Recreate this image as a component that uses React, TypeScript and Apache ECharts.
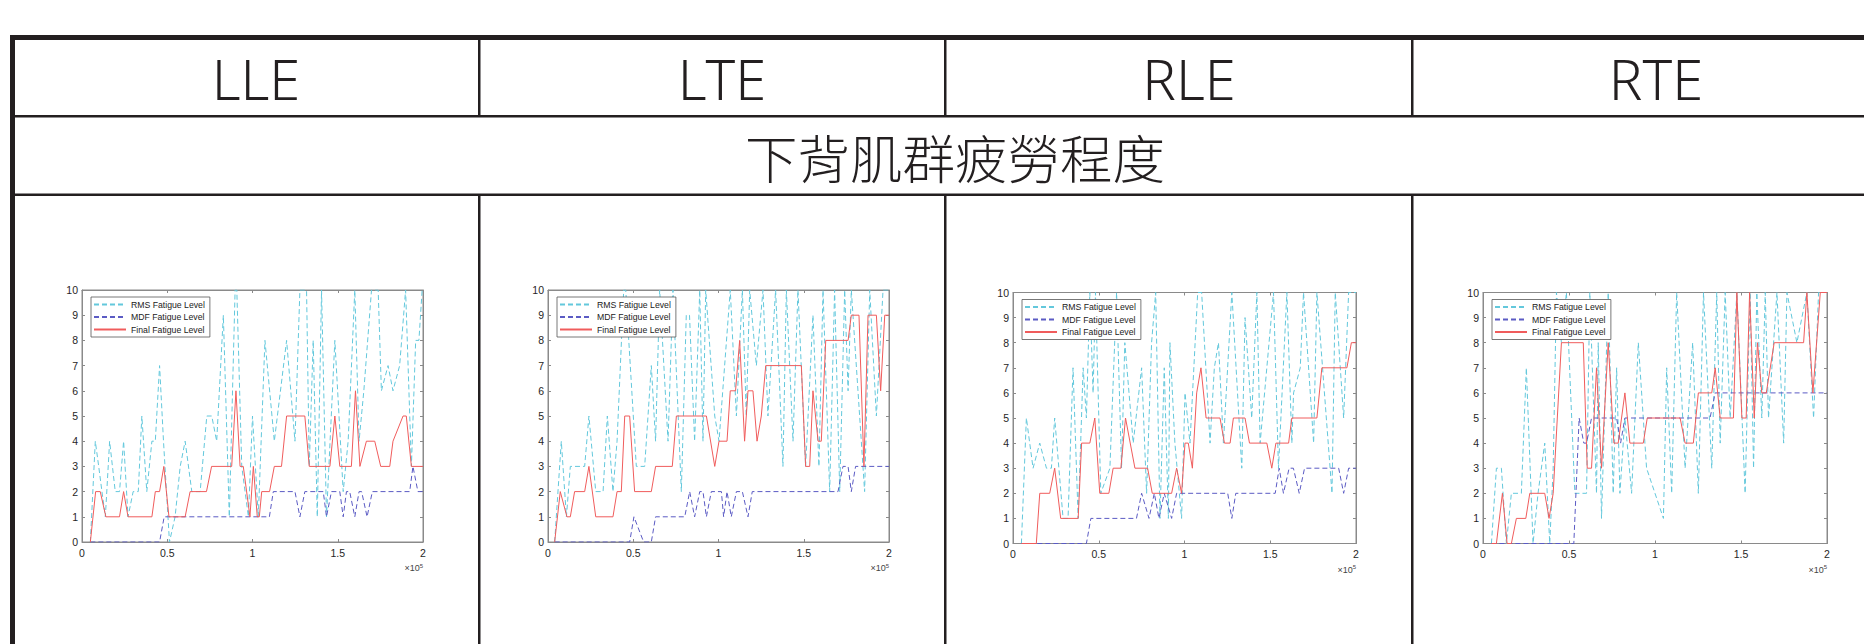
import React, { useEffect, useRef } from "react";
import * as echarts from "echarts";

const COLUMN_HEADERS = ["LLE", "LTE", "RLE", "RTE"];
const ROW_TITLE = "下背肌群疲勞程度";
const SERIES_NAMES = ["RMS Fatigue Level", "MDF Fatigue Level", "Final Fatigue Level"];
const X_TICK_LABELS = ["0", "0.5", "1", "1.5", "2"];
const X_SCALE_LABEL = "×10{sup|5}";

type Pt = [number, number];

// ---- LLE ----
const LLE_RMS: Pt[] = [
  [0.049, 0], [0.078, 4], [0.098, 3], [0.117, 2], [0.137, 1], [0.162, 4], [0.195, 2], [0.22, 2], [0.244, 4],
  [0.27, 1], [0.3, 2], [0.33, 2], [0.351, 5], [0.38, 2], [0.41, 4], [0.43, 4], [0.455, 7], [0.478, 4],
  [0.513, 0], [0.546, 1], [0.576, 3], [0.605, 4], [0.644, 2], [0.693, 2], [0.732, 5], [0.761, 5], [0.79, 4],
  [0.829, 9], [0.864, 1], [0.898, 10], [0.908, 10], [0.937, 3], [0.976, 1], [1.0, 5], [1.034, 1], [1.073, 8],
  [1.128, 4], [1.2, 8], [1.249, 4], [1.278, 10], [1.317, 10], [1.333, 3], [1.356, 8], [1.38, 1], [1.405, 10],
  [1.434, 1], [1.483, 8], [1.532, 2], [1.561, 4], [1.6, 10], [1.625, 4], [1.653, 6], [1.698, 10], [1.737, 10],
  [1.756, 6], [1.795, 7], [1.824, 6], [1.863, 7], [1.898, 10], [1.932, 3], [1.957, 8], [1.976, 8], [1.995, 10], [2, 10],
];
const LLE_MDF: Pt[] = [
  [0.049, 0], [0.455, 0], [0.482, 1], [1.099, 1], [1.122, 2], [1.249, 2], [1.278, 1], [1.307, 2], [1.415, 2],
  [1.434, 1], [1.463, 2], [1.512, 2], [1.532, 1], [1.551, 2], [1.57, 2], [1.6, 1], [1.625, 2], [1.64, 2],
  [1.672, 1], [1.703, 2], [1.922, 2], [1.941, 3], [1.97, 2], [2, 2],
];
const LLE_FINAL: Pt[] = [
  [0.049, 0], [0.08, 2], [0.107, 2], [0.14, 1], [0.22, 1], [0.244, 2], [0.27, 1], [0.41, 1], [0.43, 2],
  [0.455, 2], [0.48, 3], [0.51, 1], [0.605, 1], [0.634, 2], [0.73, 2], [0.76, 3], [0.878, 3], [0.903, 6],
  [0.927, 3], [0.946, 3], [0.985, 1], [1.005, 3], [1.028, 1], [1.04, 1], [1.054, 2], [1.1, 2], [1.128, 3],
  [1.17, 3], [1.2, 5], [1.307, 5], [1.333, 3], [1.454, 3], [1.483, 5], [1.512, 3], [1.58, 3], [1.604, 6],
  [1.63, 3], [1.668, 4], [1.717, 4], [1.752, 3], [1.805, 3], [1.824, 4], [1.883, 5], [1.902, 5], [1.932, 3], [2, 3],
];

// ---- LTE ----
const LTE_RMS: Pt[] = [
  [0.039, 0], [0.078, 4], [0.108, 1], [0.131, 3], [0.215, 3], [0.24, 5], [0.28, 2], [0.323, 2], [0.348, 5],
  [0.381, 2], [0.405, 4], [0.444, 10], [0.456, 10], [0.518, 3], [0.567, 3], [0.606, 7], [0.631, 4], [0.655, 10],
  [0.704, 4], [0.733, 10], [0.782, 2], [0.811, 9], [0.83, 9], [0.86, 4], [0.89, 10], [0.909, 4], [0.925, 10],
  [0.978, 5], [1.003, 4], [1.069, 10], [1.105, 5], [1.14, 10], [1.163, 5], [1.183, 10], [1.222, 7], [1.261, 10],
  [1.29, 5], [1.335, 10], [1.378, 3], [1.398, 10], [1.437, 4], [1.466, 10], [1.511, 3], [1.554, 9], [1.589, 3],
  [1.613, 10], [1.652, 2], [1.681, 10], [1.711, 2], [1.74, 10], [1.76, 6], [1.779, 10], [1.857, 2], [1.887, 10],
  [1.926, 5], [1.965, 10], [2, 10],
];
const LTE_MDF: Pt[] = [
  [0.039, 0], [0.479, 0], [0.504, 1], [0.561, 0], [0.606, 0], [0.631, 1], [0.802, 1], [0.831, 2], [0.86, 1],
  [0.89, 2], [0.909, 2], [0.929, 1], [0.958, 2], [1.017, 2], [1.03, 1], [1.05, 2], [1.075, 1], [1.105, 2],
  [1.14, 2], [1.173, 1], [1.198, 2], [1.701, 2], [1.73, 3], [1.76, 3], [1.779, 2], [1.804, 3], [2, 3],
];
const LTE_FINAL: Pt[] = [
  [0.039, 0], [0.072, 2], [0.111, 1], [0.131, 1], [0.156, 2], [0.215, 2], [0.24, 3], [0.28, 1], [0.381, 1],
  [0.405, 2], [0.43, 2], [0.45, 5], [0.479, 5], [0.508, 2], [0.606, 2], [0.631, 3], [0.729, 3], [0.753, 5],
  [0.929, 5], [0.978, 3], [1.003, 4], [1.05, 4], [1.069, 6], [1.1, 6], [1.124, 8], [1.153, 4], [1.173, 6],
  [1.202, 6], [1.226, 4], [1.251, 5], [1.277, 7], [1.486, 7], [1.511, 3], [1.535, 3], [1.554, 6], [1.584, 4],
  [1.603, 4], [1.629, 8], [1.76, 8], [1.779, 9], [1.824, 9], [1.853, 3], [1.877, 9], [1.926, 9], [1.951, 6],
  [1.975, 9], [2, 9],
];

// ---- RLE ----
const RLE_RMS: Pt[] = [
  [0.049, 0], [0.078, 5], [0.117, 3], [0.156, 4], [0.195, 3], [0.224, 3], [0.243, 5], [0.292, 1], [0.321, 1],
  [0.35, 7], [0.38, 1], [0.409, 7], [0.428, 5], [0.448, 10], [0.467, 6], [0.481, 10], [0.512, 2], [0.565, 3],
  [0.604, 10], [0.633, 3], [0.652, 8], [0.701, 4], [0.75, 7], [0.779, 2], [0.808, 8], [0.832, 10], [0.857, 1],
  [0.882, 7], [0.906, 1], [0.915, 8], [0.944, 4], [0.983, 1], [1.003, 6], [1.032, 4], [1.077, 10], [1.1, 10],
  [1.149, 4], [1.174, 7], [1.198, 8], [1.227, 4], [1.276, 10], [1.334, 3], [1.353, 9], [1.392, 5], [1.422, 10],
  [1.441, 4], [1.519, 10], [1.548, 3], [1.597, 10], [1.626, 4], [1.636, 6], [1.675, 7], [1.694, 10], [1.753, 4],
  [1.772, 10], [1.86, 2], [1.879, 10], [1.928, 5], [1.957, 10], [2, 10],
];
const RLE_MDF: Pt[] = [
  [0.049, 0], [0.428, 0], [0.454, 1], [0.72, 1], [0.75, 2], [0.793, 1], [0.824, 2], [0.851, 1], [0.882, 2],
  [0.925, 1], [0.954, 2], [1.252, 2], [1.276, 1], [1.299, 2], [1.529, 2], [1.552, 3], [1.577, 2], [1.61, 3],
  [1.635, 3], [1.669, 2], [1.7, 3], [1.899, 3], [1.928, 2], [1.957, 3], [2, 3],
];
const RLE_FINAL: Pt[] = [
  [0.049, 0], [0.136, 0], [0.156, 2], [0.214, 2], [0.243, 3], [0.278, 1], [0.38, 1], [0.4, 4], [0.448, 4],
  [0.477, 5], [0.506, 2], [0.559, 2], [0.584, 3], [0.629, 3], [0.656, 5], [0.711, 3], [0.785, 3], [0.812, 2],
  [0.925, 2], [0.954, 3], [0.983, 2], [1.003, 4], [1.022, 4], [1.046, 3], [1.071, 6], [1.096, 7], [1.126, 5],
  [1.207, 5], [1.233, 4], [1.266, 4], [1.285, 5], [1.353, 5], [1.379, 4], [1.48, 4], [1.509, 3], [1.533, 4],
  [1.607, 4], [1.626, 5], [1.772, 5], [1.801, 7], [1.947, 7], [1.973, 8], [2, 8],
];

// ---- RTE ----
const RTE_RMS: Pt[] = [
  [0.049, 0], [0.078, 3], [0.107, 3], [0.136, 0], [0.165, 2], [0.223, 2], [0.252, 7], [0.291, 0], [0.32, 2],
  [0.359, 4], [0.388, 0], [0.408, 3], [0.427, 10], [0.456, 8], [0.485, 10], [0.534, 2], [0.602, 2], [0.621, 10],
  [0.66, 2], [0.67, 8], [0.689, 1], [0.728, 10], [0.757, 2], [0.777, 7], [0.796, 2], [0.825, 5], [0.864, 2],
  [0.903, 8], [0.951, 3], [1.049, 1], [1.068, 7], [1.097, 2], [1.126, 10], [1.175, 3], [1.219, 8], [1.252, 2],
  [1.282, 10], [1.33, 3], [1.359, 10], [1.379, 4], [1.408, 10], [1.437, 5], [1.476, 10], [1.524, 2], [1.553, 10],
  [1.573, 3], [1.592, 10], [1.621, 5], [1.641, 10], [1.66, 5], [1.709, 10], [1.748, 4], [1.767, 10], [1.825, 8],
  [1.883, 10], [1.922, 5], [1.951, 10], [2, 10],
];
const RTE_MDF: Pt[] = [
  [0.049, 0], [0.528, 0], [0.559, 5], [0.586, 4], [0.602, 4], [0.631, 5], [0.777, 5], [0.8, 4], [0.825, 5],
  [1.32, 5], [1.35, 6], [2, 6],
];
const RTE_FINAL: Pt[] = [
  [0.049, 0], [0.078, 0], [0.113, 2], [0.14, 0], [0.165, 0], [0.194, 1], [0.249, 1], [0.272, 2], [0.359, 2],
  [0.384, 1], [0.408, 2], [0.456, 8], [0.583, 8], [0.606, 3], [0.631, 3], [0.66, 7], [0.689, 3], [0.728, 8],
  [0.761, 4], [0.786, 4], [0.825, 6], [0.854, 4], [0.932, 4], [0.955, 5], [1.146, 5], [1.175, 4], [1.223, 4],
  [1.252, 6], [1.33, 6], [1.35, 7], [1.379, 5], [1.456, 5], [1.476, 10], [1.505, 5], [1.53, 5], [1.55, 10],
  [1.577, 5], [1.596, 8], [1.621, 6], [1.647, 6], [1.693, 8], [1.864, 8], [1.883, 10], [1.918, 6], [1.961, 10], [2, 10],
];

const PANEL_DATA: Pt[][][] = [
  [LLE_RMS, LLE_MDF, LLE_FINAL],
  [LTE_RMS, LTE_MDF, LTE_FINAL],
  [RLE_RMS, RLE_MDF, RLE_FINAL],
  [RTE_RMS, RTE_MDF, RTE_FINAL],
];

// layout (pixels)
const GRIDS = [
  { left: 82, top: 290, width: 341, height: 252 },
  { left: 548, top: 290, width: 341, height: 252 },
  { left: 1013, top: 292.5, width: 343, height: 251 },
  { left: 1483, top: 292.5, width: 344, height: 251 },
];
const HEADER_X = [256, 722, 1189, 1656];
const DIVIDER_X = [478, 944, 1411];

const COLORS = ["#63c8dc", "#5b5bc4", "#f05c5c"];
const DASHES: (number[] | "solid")[] = [[5, 3], [5, 3], "solid"];
const AXIS_COLOR = "#8a8a8a";
const LINE_DARK = "#231f20";

export default function App() {
  const ref = useRef<HTMLDivElement>(null);

  useEffect(() => {
    if (!ref.current) return;
    const chart = echarts.init(ref.current, undefined, { renderer: "svg" });

    const grid: any[] = [];
    const xAxis: any[] = [];
    const yAxis: any[] = [];
    const series: any[] = [];
    const legend: any[] = [];
    const graphic: any[] = [];

    GRIDS.forEach((g, i) => {
      grid.push({ ...g, show: true, borderColor: AXIS_COLOR, borderWidth: 1, backgroundColor: "#fff" });
      const common = {
        gridIndex: i,
        type: "value",
        axisLine: { show: true, onZero: false, lineStyle: { color: AXIS_COLOR, width: 1 } },
        axisTick: { show: true, inside: true, length: 3, lineStyle: { color: AXIS_COLOR } },
        splitLine: { show: false },
      };
      xAxis.push({
        ...common,
        position: "bottom",
        min: 0,
        max: 2,
        interval: 0.5,
        axisLabel: {
          show: true,
          margin: 5,
          fontSize: 10.5,
          color: "#262626",
          fontFamily: "Liberation Sans",
          formatter: (v: number) => X_TICK_LABELS[Math.round(v * 2)] ?? String(v),
        },
      });
      xAxis.push({ ...common, position: "top", min: 0, max: 2, interval: 0.5, axisLabel: { show: false } });
      yAxis.push({
        ...common,
        position: "left",
        min: 0,
        max: 10,
        interval: 1,
        axisLabel: { show: true, margin: 4, fontSize: 10.5, color: "#262626", fontFamily: "Liberation Sans" },
      });
      yAxis.push({ ...common, position: "right", min: 0, max: 10, interval: 1, axisLabel: { show: false } });

      PANEL_DATA[i].forEach((data, k) => {
        series.push({
          type: "line",
          name: SERIES_NAMES[k],
          xAxisIndex: 2 * i,
          yAxisIndex: 2 * i,
          data,
          symbol: "none",
          clip: true,
          z: 2 + k,
          lineStyle: { color: COLORS[k], width: 1, type: DASHES[k] },
          itemStyle: { color: COLORS[k] },
        });
      });

      legend.push({
        data: SERIES_NAMES,
        orient: "vertical",
        left: g.left + 9,
        top: g.top + 7,
        itemWidth: 32,
        itemHeight: 8,
        itemGap: 3.5,
        padding: [3, 5, 3, 2],
        backgroundColor: "#fff",
        borderColor: "#555",
        borderWidth: 0.8,
        selectedMode: false,
        itemStyle: { opacity: 0, color: "rgba(0,0,0,0)", borderColor: "rgba(0,0,0,0)", borderWidth: 0 },
        textStyle: { fontSize: 8.7, color: "#222", fontFamily: "Liberation Sans" },
      });

      graphic.push({
        type: "text",
        x: g.left + g.width,
        y: g.top + g.height + 26,
        style: {
          text: X_SCALE_LABEL,
          align: "right",
          verticalAlign: "middle",
          fontSize: 9,
          fill: "#444",
          fontFamily: "Liberation Sans",
          rich: { sup: { fontSize: 6, verticalAlign: "top", padding: [0, 0, 5, 0], fill: "#444" } },
        },
      });
    });

    // table lines
    graphic.push({ type: "rect", shape: { x: 10, y: 35, width: 1854, height: 5 }, style: { fill: LINE_DARK } });
    graphic.push({ type: "rect", shape: { x: 10, y: 35, width: 5, height: 609 }, style: { fill: LINE_DARK } });
    graphic.push({ type: "rect", shape: { x: 10, y: 115, width: 1854, height: 2.5 }, style: { fill: LINE_DARK } });
    graphic.push({ type: "rect", shape: { x: 10, y: 193.5, width: 1854, height: 2.5 }, style: { fill: LINE_DARK } });
    DIVIDER_X.forEach((x) => {
      graphic.push({ type: "rect", shape: { x, y: 40, width: 2.5, height: 75 }, style: { fill: LINE_DARK } });
      graphic.push({ type: "rect", shape: { x, y: 196, width: 2.5, height: 448 }, style: { fill: LINE_DARK } });
    });
    COLUMN_HEADERS.forEach((h, i) => {
      graphic.push({
        type: "text",
        x: HEADER_X[i],
        y: 78,
        style: {
          text: h,
          align: "center",
          verticalAlign: "middle",
          fontSize: 56,
          fontFamily: "Noto Sans",
          fontWeight: 300,
          fill: LINE_DARK,
        },
      });
    });
    graphic.push({
      type: "text",
      x: 955,
      y: 156,
      style: {
        text: ROW_TITLE,
        align: "center",
        verticalAlign: "middle",
        fontSize: 52.5,
        fontFamily: "Noto Sans CJK TC",
        fontWeight: 300,
        fill: LINE_DARK,
      },
    });

    chart.setOption({
      animation: false,
      backgroundColor: "#fff",
      grid,
      xAxis,
      yAxis,
      series,
      legend,
      graphic: { elements: graphic },
    });

    return () => chart.dispose();
  }, []);

  return (
    <div
      ref={ref}
      style={{ position: "absolute", left: 0, top: 0, width: 1864, height: 644, background: "#fff" }}
    />
  );
}
